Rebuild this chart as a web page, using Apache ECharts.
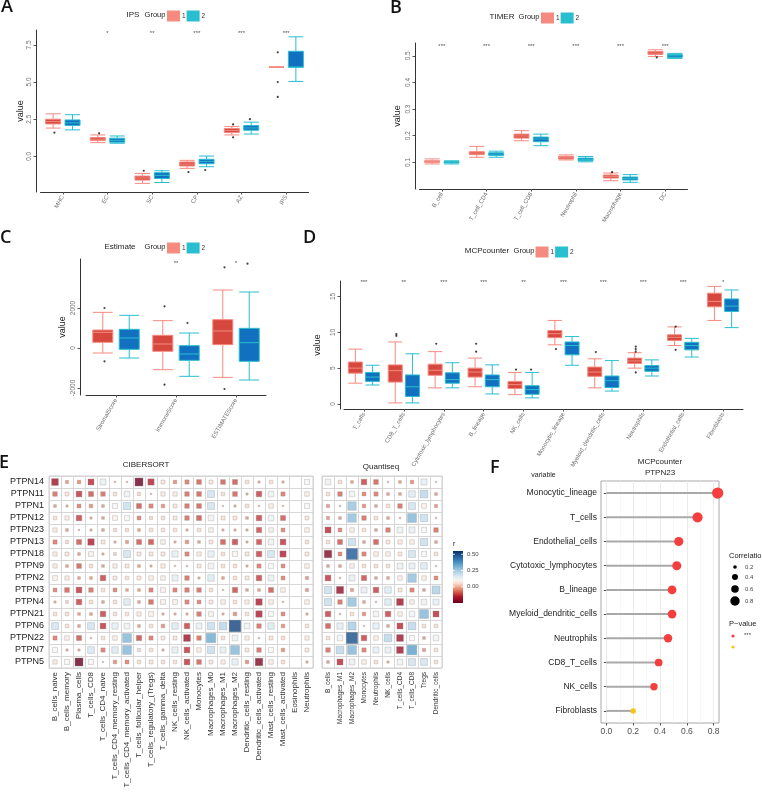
<!DOCTYPE html>
<html>
<head>
<meta charset="utf-8">
<script src="https://cdn.jsdelivr.net/npm/echarts@6/dist/echarts.min.js"></script>
<style>
html, body { margin: 0; padding: 0; background: #fff; }
#main { width: 762px; height: 795px; }
</style>
</head>
<body>
<div id="main"></div>
<script>
// ---- A: IPS ----
var ipsCats = ['MHC', 'EC', 'SC', 'CP', 'AZ', 'IPS'];
var ipsG1 = [[1.9, 2.18, 2.34, 2.5, 2.86], [0.92, 1.06, 1.15, 1.26, 1.44], [-1.82, -1.6, -1.46, -1.33, -1.15],
	[-0.81, -0.65, -0.52, -0.38, -0.27], [1.44, 1.6, 1.73, 1.87, 2.0], [6, 6, 6, 6, 6]];
var ipsG2 = [[1.78, 2.07, 2.25, 2.45, 2.8], [0.88, 0.95, 1.08, 1.22, 1.37], [-1.76, -1.49, -1.28, -1.1, -0.97],
	[-0.7, -0.5, -0.34, -0.2, 0.02], [1.5, 1.76, 1.91, 2.07, 2.3], [5.04, 6.0, 6.0, 7.07, 8.04]];
var ipsOut1 = [[0, 1.6], [1, 1.55], [2, -0.97], [3, -1.06], [4, 2.15], [4, 1.28], [5, 7.0], [5, 5.0], [5, 4.0]];
var ipsOut2 = [[3, -0.92], [4, 2.5]];
var ipsSig = ['', '*', '**', '***', '***', '***'];

// ---- B: TIMER ----
var timerCats = ['B_cell', 'T_cell_CD4', 'T_cell_CD8', 'Neutrophil', 'Macrophage', 'DC'];
var timerG1 = [[0.094, 0.1, 0.103, 0.106, 0.113], [0.119, 0.129, 0.135, 0.14, 0.16], [0.181, 0.191, 0.199, 0.206, 0.219],
	[0.109, 0.1125, 0.1175, 0.1225, 0.128], [0.031, 0.041, 0.0475, 0.0525, 0.06], [0.4975, 0.505, 0.51, 0.516, 0.5225]];
var timerG2 = [[0.094, 0.098, 0.1, 0.103, 0.106], [0.119, 0.126, 0.131, 0.136, 0.142], [0.1625, 0.1775, 0.1875, 0.195, 0.206],
	[0.102, 0.106, 0.111, 0.116, 0.122], [0.025, 0.034, 0.04, 0.045, 0.054], [0.49, 0.494, 0.5, 0.505, 0.509]];
var timerOut1 = [[4, 0.063], [5, 0.494]];
var timerOut2 = [];
var timerSig = ['***', '***', '***', '***', '***', '***'];

// ---- C: Estimate ----
var estCats = ['StromalScore', 'ImmuneScore', 'ESTIMATEScore'];
var estG1 = [[-250, 283, 783, 900, 1783], [-1083, -167, 200, 633, 1367], [-1467, 167, 850, 1417, 2900]];
var estG2 = [[-500, -67, 500, 933, 1633], [-1417, -617, -300, 117, 750], [-1600, -667, 267, 983, 2800]];
var estOut1 = [[0, 2000], [0, -667], [1, 2083], [1, -1833], [2, 4033], [2, -2050]];
var estOut2 = [[1, 1250], [2, 4217]];
var estSig = ['', '**', '*'];

// ---- D: MCPcounter ----
var mcpCats = ['T_cells', 'CD8_T_cells', 'Cytotoxic_lymphocytes', 'B_lineage', 'NK_cells', 'Monocytic_lineage',
	'Myeloid_dendritic_cells', 'Neutrophils', 'Endothelial_cells', 'Fibroblasts'];
var mcpG1 = [[2.9, 4.3, 5.0, 5.85, 7.65], [0.15, 3.05, 4.65, 5.45, 8.65], [2.25, 4.0, 4.7, 5.55, 7.3],
	[2.4, 3.75, 4.45, 5.0, 6.4], [1.3, 2.15, 2.7, 3.15, 4.4], [8.25, 9.25, 9.8, 10.25, 11.65],
	[2.25, 3.85, 4.45, 5.15, 6.3], [5.0, 5.65, 6.0, 6.4, 7.15], [8.15, 8.85, 9.3, 9.65, 10.75], [11.65, 13.55, 14.3, 15.45, 16.4]];
var mcpG2 = [[2.65, 3.15, 3.75, 4.4, 5.4], [0.15, 1.05, 2.4, 4.05, 7.0], [2.25, 2.9, 3.4, 4.35, 5.75],
	[1.4, 2.4, 3.4, 4.05, 5.45], [0.85, 1.35, 2.0, 2.55, 4.4], [5.4, 6.85, 8.15, 8.65, 9.4],
	[1.8, 2.3, 3.25, 3.9, 6.05], [3.9, 4.55, 5.0, 5.35, 6.15], [6.55, 7.55, 8.15, 8.6, 9.15], [10.65, 12.9, 13.65, 14.65, 15.9]];
var mcpOut1 = [[1, 9.75], [1, 9.5], [2, 8.4], [3, 8.4], [3, 7.3], [4, 4.8], [5, 7.65], [6, 7.25], [7, 8.0], [7, 7.65],
	[7, 7.3], [7, 4.4], [8, 10.8], [8, 7.55]];
var mcpOut2 = [[4, 4.8]];
var mcpSig = ['***', '**', '***', '***', '**', '***', '***', '***', '***', '*'];

// ---- E: correlation heatmaps ----
var ptpnRows = ['PTPN14', 'PTPN11', 'PTPN1', 'PTPN12', 'PTPN23', 'PTPN13', 'PTPN18', 'PTPN9', 'PTPN2', 'PTPN3',
	'PTPN4', 'PTPN21', 'PTPN6', 'PTPN22', 'PTPN7', 'PTPN5'];
var cibersortCols = ['B_cells_naive', 'B_cells_memory', 'Plasma_cells', 'T_cells_CD8', 'T_cells_CD4_naive',
	'T_cells_CD4_memory_resting', 'T_cells_CD4_memory_activated', 'T_cells_follicular_helper', 'T_cells_regulatory_(Tregs)',
	'T_cells_gamma_delta', 'NK_cells_resting', 'NK_cells_activated', 'Monocytes', 'Macrophages_M0', 'Macrophages_M1',
	'Macrophages_M2', 'Dendritic_cells_resting', 'Dendritic_cells_activated', 'Mast_cells_resting', 'Mast_cells_activated',
	'Eosinophils', 'Neutrophils'];
var cibersortR = [
	[-0.18, -0.04, -0.05, -0.14, 0.13, -0.01, -0.01, -0.25, -0.15, 0.06, -0.05, -0.07, -0.09, 0.06, -0.09, -0.1, 0.05, -0.02, 0.05, -0.02, null, 0.1],
	[-0.08, 0.06, -0.13, -0.1, -0.08, 0.05, 0.12, 0.04, -0.01, 0.07, 0.07, -0.08, -0.09, 0.18, 0.05, -0.09, -0.02, -0.12, 0.12, -0.07, null, 0.08],
	[-0.03, -0.02, -0.06, -0.05, -0.03, 0.1, 0.2, -0.1, -0.07, -0.05, 0.06, -0.08, -0.09, 0.18, 0.0, -0.02, 0.05, -0.01, 0.08, 0.0, null, 0.1],
	[0.05, 0.07, -0.12, -0.02, -0.03, 0.09, 0.1, -0.06, 0.04, 0.05, 0.06, -0.08, -0.1, 0.12, 0.06, 0.06, -0.03, -0.12, 0.12, -0.1, null, 0.06],
	[0.07, -0.03, -0.01, -0.02, -0.03, 0.04, 0.04, -0.03, 0.05, 0.05, 0.05, -0.02, 0.05, 0.08, -0.02, -0.02, -0.02, -0.11, 0.08, -0.06, null, 0.08],
	[-0.07, 0.04, -0.1, -0.16, 0.06, -0.02, -0.04, -0.1, -0.11, 0.08, -0.02, -0.05, -0.03, 0.06, -0.1, -0.12, -0.02, -0.11, 0.12, -0.13, null, 0.05],
	[0.07, 0.06, -0.03, 0.09, -0.02, 0.03, 0.18, 0.06, 0.06, 0.06, 0.15, -0.07, 0.07, 0.15, 0.05, 0.1, 0.06, -0.12, 0.18, -0.15, null, 0.06],
	[0.07, -0.03, -0.09, 0.05, -0.03, 0.07, 0.06, -0.03, -0.02, 0.07, 0.01, -0.01, 0.06, 0.12, 0.05, 0.05, -0.02, -0.07, 0.1, -0.06, null, 0.08],
	[0.09, 0.07, -0.03, -0.03, -0.12, 0.06, 0.05, 0.06, 0.08, 0.08, 0.14, -0.08, -0.02, 0.16, -0.03, 0.05, 0.06, -0.12, 0.13, -0.06, null, -0.04],
	[-0.06, -0.09, -0.13, -0.08, 0.05, -0.06, -0.03, -0.03, -0.07, 0.09, -0.07, -0.08, -0.08, 0.05, -0.01, -0.11, -0.03, -0.03, -0.1, 0.08, null, -0.04],
	[-0.02, 0.03, -0.12, 0.05, -0.03, 0.05, 0.16, -0.03, -0.09, 0.09, 0.09, -0.07, -0.06, 0.06, 0.08, 0.05, 0.07, -0.16, 0.08, -0.01, null, 0.08],
	[0.05, 0.05, -0.03, -0.03, -0.12, 0.05, 0.05, 0.07, 0.09, -0.02, -0.02, -0.02, -0.08, 0.09, -0.02, -0.05, 0.05, -0.16, 0.1, -0.06, null, -0.02],
	[0.18, 0.05, -0.03, 0.18, -0.13, 0.15, 0.12, -0.03, 0.05, -0.05, 0.16, -0.12, 0.13, 0.2, 0.22, 0.52, 0.12, -0.08, 0.16, -0.05, null, 0.05],
	[-0.07, 0.08, -0.1, -0.01, 0.05, 0.08, 0.3, -0.11, -0.07, 0.06, 0.06, -0.18, -0.08, 0.33, 0.05, 0.12, 0.07, -0.01, 0.06, 0.05, null, 0.07],
	[0.1, -0.02, -0.02, 0.17, -0.07, 0.16, 0.3, 0.04, 0.05, -0.02, 0.15, -0.13, 0.08, 0.2, 0.14, 0.3, 0.06, -0.08, 0.1, -0.05, null, 0.06],
	[0.07, 0.1, -0.25, 0.1, 0.0, -0.05, -0.06, 0.05, 0.06, 0.05, 0.05, -0.13, -0.09, 0.06, 0.07, 0.15, -0.05, -0.22, 0.08, 0.05, null, -0.02]
];
var quantiseqCols = ['B_cells', 'Macrophages_M1', 'Macrophages_M2', 'Monocytes', 'Neutrophils', 'NK_cells',
	'T_cells_CD4', 'T_cells_CD8', 'Tregs', 'Dendritic_cells'];
var quantiseqR = [
	[0.12, 0.05, -0.03, -0.12, -0.09, -0.01, -0.03, -0.05, 0.14, 0.0],
	[0.05, -0.08, 0.12, -0.06, -0.07, -0.03, -0.03, 0.16, 0.22, -0.03],
	[-0.04, -0.01, 0.27, -0.05, -0.03, 0.05, -0.08, 0.18, 0.09, -0.04],
	[-0.04, -0.03, 0.28, -0.08, 0.05, -0.03, -0.01, 0.3, 0.2, -0.01],
	[-0.14, -0.06, 0.08, 0.05, -0.03, -0.08, 0.13, 0.14, 0.1, -0.08],
	[0.05, -0.1, 0.2, -0.03, -0.1, 0.06, 0.07, 0.08, 0.2, -0.03],
	[-0.22, -0.06, 0.48, -0.07, 0.08, 0.08, 0.06, 0.18, 0.1, 0.05],
	[-0.03, -0.03, 0.08, 0.05, 0.05, 0.05, 0.13, 0.14, 0.16, 0.0],
	[-0.13, -0.01, 0.14, -0.11, -0.03, -0.03, 0.08, 0.28, 0.08, -0.06],
	[0.2, -0.2, -0.04, 0.14, -0.12, 0.16, 0.06, -0.07, -0.03, 0.24],
	[0.2, -0.08, 0.28, -0.03, -0.01, 0.16, -0.18, 0.08, 0.12, 0.14],
	[-0.12, -0.01, 0.05, -0.05, 0.12, -0.12, 0.08, 0.12, 0.3, -0.14],
	[-0.1, 0.15, 0.25, 0.0, 0.15, -0.03, -0.14, 0.22, 0.05, 0.05],
	[0.05, 0.12, 0.5, -0.12, 0.08, 0.22, -0.18, 0.1, -0.03, 0.12],
	[-0.08, 0.22, 0.3, -0.07, 0.14, 0.14, -0.18, 0.35, -0.04, 0.05],
	[-0.03, -0.14, 0.13, 0.08, 0.05, -0.02, 0.12, 0.18, 0.18, 0.05]
];
var colorbarTicks = [0.5, 0.25, 0.0];

// ---- F: lollipop ----
var lolliCats = ['Monocytic_lineage', 'T_cells', 'Endothelial_cells', 'Cytotoxic_lymphocytes', 'B_lineage',
	'Myeloid_dendritic_cells', 'Neutrophils', 'CD8_T_cells', 'NK_cells', 'Fibroblasts'];
var lolliCor = [0.83, 0.68, 0.54, 0.525, 0.49, 0.49, 0.46, 0.39, 0.355, 0.2];
var lolliSig = ['***', '***', '***', '***', '***', '***', '***', '***', '***', ''];
var lolliTicks = [0, 0.2, 0.4, 0.6, 0.8];
var corLegend = [0.2, 0.4, 0.6, 0.8];

var FONT = '"Liberation Sans", Arial, sans-serif';
var C1_FILL = '#D6483E', C1_LINE = '#F58A80';
var C2_FILL = '#1170BF', C2_LINE = '#29BED0';
var RAMP = ['#67001F', '#8E0B25', '#B2182B', '#CB4A42', '#E07B63', '#F0AC92', '#FADBCB', '#F7F4F2', '#E0ECF4',
	'#C4DCEC', '#A3CBE2', '#7FB5D8', '#5A9DCA', '#3D84BB', '#2A68A8', '#174D8A', '#053061'];
var R_MIN = -0.25, R_MAX = 0.55;

var chart = echarts.init(document.getElementById('main'));

var grids = [], xAxes = [], yAxes = [], series = [], legends = [];

function addBoxPanel(p) {
	var i = grids.length;
	grids.push({ left: p.left, top: p.top, width: p.width, height: p.height });
	xAxes.push({
		gridIndex: i, type: 'category', data: p.cats,
		axisLine: { onZero: false, lineStyle: { color: '#333', width: 1 } },
		axisTick: { show: true, alignWithLabel: true, length: 2.5, lineStyle: { color: '#555' } },
		axisLabel: { interval: 0, rotate: 60, fontSize: 6, color: '#707070', margin: 4, fontFamily: FONT },
		splitLine: { show: false },
		name: p.xName || '', nameLocation: 'middle', nameGap: p.xNameGap || 0,
		nameTextStyle: { fontSize: 7, color: '#222', fontFamily: FONT }
	});
	yAxes.push({
		gridIndex: i, type: 'value', min: p.min, max: p.max, offset: p.yOffset,
		axisLine: { show: true, onZero: false, lineStyle: { color: '#333', width: 1 } },
		axisTick: { show: true, length: 2.5, customValues: p.ticks, lineStyle: { color: '#555' } },
		axisLabel: { rotate: 90, fontSize: 6.5, color: '#707070', margin: 3, customValues: p.ticks, formatter: p.fmt, fontFamily: FONT },
		splitLine: { show: false },
		name: 'value', nameLocation: 'middle', nameGap: p.nameGap,
		nameTextStyle: { fontSize: 9, color: '#222', fontFamily: FONT }
	});
	series.push({
		type: 'boxplot', name: '1', xAxisIndex: i, yAxisIndex: i, data: p.g1, boxWidth: [p.bw, p.bw], silent: true,
		itemStyle: { color: C1_FILL, borderColor: C1_LINE, borderWidth: 1 }
	});
	series.push({
		type: 'boxplot', name: '2', xAxisIndex: i, yAxisIndex: i, data: p.g2, boxWidth: [p.bw, p.bw], silent: true,
		itemStyle: { color: C2_FILL, borderColor: C2_LINE, borderWidth: 1 }
	});
	series.push({
		type: 'scatter', name: 'out1', xAxisIndex: i, yAxisIndex: i, data: p.out1, symbolSize: 2.2,
		symbolOffset: [-p.shift, 0], itemStyle: { color: '#111' }, silent: true
	});
	series.push({
		type: 'scatter', name: 'out2', xAxisIndex: i, yAxisIndex: i, data: p.out2, symbolSize: 2.2,
		symbolOffset: [p.shift, 0], itemStyle: { color: '#111' }, silent: true
	});
	series.push({
		type: 'scatter', name: 'sig', xAxisIndex: i, yAxisIndex: i, silent: true, symbolSize: 1,
		data: p.cats.map(function (c, k) { return [k, p.sigY]; }),
		itemStyle: { color: 'rgba(0,0,0,0)' },
		label: {
			show: true, position: 'inside', fontSize: 6, color: '#222', fontFamily: FONT,
			formatter: function (q) { return p.sig[q.dataIndex]; }
		}
	});
	legends.push({
		data: ['1', '2'], left: p.legLeft, top: p.legTop, icon: 'rect', itemWidth: 11, itemHeight: 9, itemGap: 1,
		selectedMode: false, padding: 0, textStyle: { fontSize: 6.5, color: '#333', fontFamily: FONT, padding: [0, 0, 0, -2] }
	});
}

function one(v) { return v.toFixed(1); }
function plain(v) { return String(v); }

addBoxPanel({ cats: ipsCats, g1: ipsG1, g2: ipsG2, out1: ipsOut1, out2: ipsOut2, sig: ipsSig, sigY: 8.3,
	left: 40.5, top: 30, width: 268, height: 162, min: -2.4, max: 8.5, ticks: [0, 2.5, 5, 7.5], fmt: one,
	yOffset: 4.5, nameGap: 11, bw: 15, shift: 8.4, legLeft: 167, legTop: 10.5 });
addBoxPanel({ cats: timerCats, g1: timerG1, g2: timerG2, out1: timerOut1, out2: timerOut2, sig: timerSig, sigY: 0.535,
	left: 419.5, top: 43, width: 268, height: 146, min: 0, max: 0.548, ticks: [0.1, 0.2, 0.3, 0.4, 0.5], fmt: one,
	yOffset: 4.5, nameGap: 13, bw: 15, shift: 8.4, legLeft: 541, legTop: 12.5 });
addBoxPanel({ cats: estCats, g1: estG1, g2: estG2, out1: estOut1, out2: estOut2, sig: estSig, sigY: 4250,
	left: 86, top: 259, width: 180, height: 136, min: -2350, max: 4450, ticks: [-2000, 0, 2000], fmt: plain,
	yOffset: 6, nameGap: 13, bw: 20, shift: 11.5, legLeft: 167, legTop: 242.5 });
addBoxPanel({ cats: mcpCats, g1: mcpG1, g2: mcpG2, out1: mcpOut1, out2: mcpOut2, sig: mcpSig, sigY: 16.95,
	left: 344, top: 281, width: 399, height: 128, min: -0.7, max: 17.15, ticks: [0, 5, 10, 15], fmt: plain,
	yOffset: 4, nameGap: 10, bw: 14, shift: 7.5, legLeft: 535.5, legTop: 246.5,
	xName: 'variable', xNameGap: 42 });

// heatmaps
function cellSize(v) {
	return Math.max(1.5, 12 * Math.sqrt(Math.min(Math.abs(v[2]), 0.55) / 0.55));
}
function cells(matrix) {
	var out = [];
	matrix.forEach(function (row, ri) {
		row.forEach(function (v, ci) { if (v !== null) out.push([ci, ri, v]); });
	});
	return out;
}
function addHeat(cols, matrix, g, showRows, labelSize) {
	var i = grids.length;
	grids.push({ left: g.left, top: g.top, width: g.width, height: g.height, show: true, borderColor: '#CFCFCF', borderWidth: 1 });
	xAxes.push({
		gridIndex: i, type: 'category', data: cols, position: 'bottom',
		axisLine: { show: false }, axisTick: { show: false },
		axisLabel: { interval: 0, rotate: 90, fontSize: labelSize, color: '#333', margin: 4, fontFamily: FONT },
		splitLine: { show: true, interval: 0, lineStyle: { color: '#D6D6D6', width: 1 } }
	});
	yAxes.push({
		gridIndex: i, type: 'category', data: ptpnRows, inverse: true,
		axisLine: { show: false }, axisTick: { show: false },
		axisLabel: { show: showRows, interval: 0, fontSize: 9, color: '#222', margin: 5, fontFamily: FONT },
		splitLine: { show: true, interval: 0, lineStyle: { color: '#D6D6D6', width: 1 } }
	});
	series.push({
		type: 'scatter', name: 'heat', xAxisIndex: i, yAxisIndex: i, symbol: 'rect', silent: true,
		data: cells(matrix), symbolSize: cellSize,
		itemStyle: { borderColor: 'rgba(140,140,140,0.55)', borderWidth: 0.7 }
	});
	return series.length - 1;
}
var heatA = addHeat(cibersortCols, cibersortR, { left: 49, top: 476, width: 264, height: 192 }, true, 8);
var heatB = addHeat(quantiseqCols, quantiseqR, { left: 322, top: 476, width: 120, height: 192 }, false, 6.5);

// F lollipop
var fi = grids.length;
grids.push({ left: 601, top: 481, width: 118, height: 242, show: true, borderColor: '#A8A8A8', borderWidth: 1 });
xAxes.push({
	gridIndex: fi, type: 'value', min: -0.04, max: 0.84,
	axisLine: { show: false },
	axisTick: { show: true, length: 2.5, customValues: lolliTicks, lineStyle: { color: '#555' } },
	axisLabel: { fontSize: 8.5, color: '#4D4D4D', margin: 4, customValues: lolliTicks, formatter: one, fontFamily: FONT },
	splitLine: { show: true, lineStyle: { color: '#EBEBEB', width: 1 } },
	minorTick: { show: false, splitNumber: 2 },
	minorSplitLine: { show: true, lineStyle: { color: '#F4F4F4', width: 0.6 } }
});
yAxes.push({
	gridIndex: fi, type: 'category', data: lolliCats, inverse: true,
	axisLine: { show: false },
	axisTick: { show: true, alignWithLabel: true, length: 2.5, lineStyle: { color: '#555' } },
	axisLabel: { interval: 0, fontSize: 8.5, color: '#222', margin: 4, fontFamily: FONT },
	splitLine: { show: false }
});
series.push({
	type: 'bar', name: 'seg', xAxisIndex: fi, yAxisIndex: fi, data: lolliCor, barWidth: 2, silent: true,
	itemStyle: { color: '#A9A9A9' }
});
series.push({
	type: 'scatter', name: 'dot', xAxisIndex: fi, yAxisIndex: fi, silent: true,
	data: lolliCor.map(function (v, k) {
		return { value: [v, k], itemStyle: { color: lolliSig[k] === '***' ? '#F63E3E' : '#F5C51A', opacity: 1 } };
	}),
	symbolSize: function (v) { return 12.4 * Math.sqrt(v[0]); }
});

// graphics: panel letters, legend titles, colorbar, F legend
var graphics = [];
function txt(x, y, s, size, opt) {
	opt = opt || {};
	graphics.push({
		type: 'text', x: x, y: y, silent: true,
		style: {
			text: s, fontSize: size, fill: opt.fill || '#222', fontFamily: opt.family || FONT,
			fontWeight: opt.weight || 'normal', textAlign: opt.align || 'center', textVerticalAlign: opt.valign || 'middle'
		}
	});
}
var LETTER = { family: '"Open Sans", "Liberation Sans", sans-serif', weight: 600, align: 'left', valign: 'top', fill: '#111' };
txt(1, -2, 'A', 18, LETTER);
txt(390, -1, 'B', 18, LETTER);
txt(0, 229, 'C', 18, LETTER);
txt(303, 229, 'D', 18, LETTER);
txt(-1, 454, 'E', 18, LETTER);
txt(490, 459, 'F', 18, LETTER);

txt(133, 15, 'IPS', 8);
txt(155, 15, 'Group', 7.5);
txt(502, 17, 'TIMER', 8);
txt(529, 17, 'Group', 7.5);
txt(120, 247, 'Estimate', 8);
txt(155, 247, 'Group', 7.5);
txt(487, 251, 'MCPcounter', 8);
txt(524, 251, 'Group', 7.5);

txt(146, 465, 'CIBERSORT', 8);
txt(381, 467, 'Quantiseq', 8);

// colorbar
var barTop = 551, barH = 52;
graphics.push({
	type: 'rect', silent: true, shape: { x: 453, y: barTop, width: 10, height: barH },
	style: {
		fill: new echarts.graphic.LinearGradient(0, 0, 0, 1, RAMP.slice().reverse().map(function (c, k, a) {
			return { offset: k / (a.length - 1), color: c };
		}))
	}
});
colorbarTicks.forEach(function (t) {
	var y = barTop + (R_MAX - t) / (R_MAX - R_MIN) * barH;
	graphics.push({ type: 'line', silent: true, shape: { x1: 453, y1: y, x2: 455, y2: y }, style: { stroke: '#fff', lineWidth: 0.8 } });
	graphics.push({ type: 'line', silent: true, shape: { x1: 461, y1: y, x2: 463, y2: y }, style: { stroke: '#fff', lineWidth: 0.8 } });
	txt(467, y, t.toFixed(2), 6, { align: 'left', fill: '#444' });
});
txt(453, 544, 'r', 7, { align: 'left' });

// F title and legend
txt(660, 462, 'MCPcounter', 8);
txt(660, 473, 'PTPN23', 8);
txt(729, 556, 'Correlation', 7.5, { align: 'left' });
var corR = [1.8, 3, 3.8, 4.7];
corLegend.forEach(function (v, k) {
	var cy = [567, 577, 589, 601][k];
	graphics.push({ type: 'circle', silent: true, shape: { cx: 735, cy: cy, r: corR[k] }, style: { fill: '#000' } });
	txt(745, cy, v.toFixed(1), 6, { align: 'left', fill: '#444' });
});
txt(729, 624, 'P\u2212value', 7.5, { align: 'left' });
graphics.push({ type: 'circle', silent: true, shape: { cx: 733, cy: 636, r: 1.6 }, style: { fill: '#F63E3E' } });
txt(744, 635, '***', 6, { align: 'left', fill: '#444' });
graphics.push({ type: 'circle', silent: true, shape: { cx: 733, cy: 647, r: 1.6 }, style: { fill: '#F5C51A' } });

var option = {
	animation: false,
	textStyle: { fontFamily: FONT },
	grid: grids,
	xAxis: xAxes,
	yAxis: yAxes,
	legend: legends,
	visualMap: [{
		type: 'continuous', show: false, min: R_MIN, max: R_MAX, dimension: 2,
		seriesIndex: [heatA, heatB], inRange: { color: RAMP }
	}],
	series: series,
	graphic: graphics
};
chart.setOption(option);
</script>
</body>
</html>
